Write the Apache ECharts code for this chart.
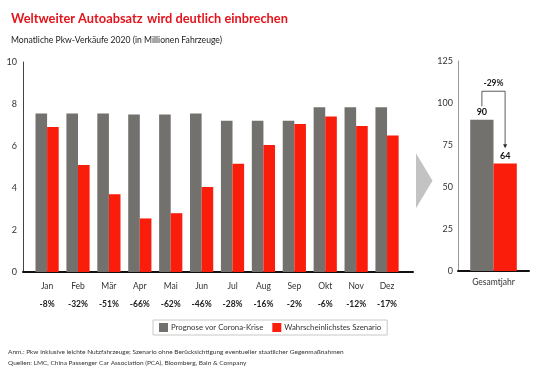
<!DOCTYPE html>
<html><head><meta charset="utf-8">
<script src="https://cdn.jsdelivr.net/npm/echarts@6/dist/echarts.min.js"></script>
<style>html,body{margin:0;padding:0;background:#fff}#c{width:540px;height:372px}</style>
</head><body><div id="c"></div>
<script>
const months = ['Jan','Feb','Mär','Apr','Mai','Jun','Jul','Aug','Sep','Okt','Nov','Dez'];
const prognose = [7.55,7.55,7.55,7.5,7.5,7.55,7.2,7.2,7.2,7.85,7.85,7.85];
const szenario = [6.9,5.1,3.7,2.55,2.8,4.05,5.15,6.05,7.05,7.4,6.95,6.5];
const changeLabels = ['-8%','-32%','-51%','-66%','-62%','-46%','-28%','-16%','-2%','-6%','-12%','-17%'];
const yearCat = ['Gesamtjahr'];
const yearPrognose = [90];
const yearSzenario = [64];
const yearChange = '-29%';
const leftTicks = [0,2,4,6,8,10];
const rightTicks = [0,25,50,75,100,125];

const GRAY = '#72716e', RED = '#fb1d0b', TITLE_RED = '#e4141b';
const FONT = 'Lato, "Noto Sans", sans-serif';

const chart = echarts.init(document.getElementById('c'), null, {renderer:'canvas'});
const monthIdx = months.map((m,i)=>i);

chart.setOption({
  animation:false,
  textStyle:{fontFamily:FONT},
  title:[{
    left:6, top:5,
    text:'{b|Weltweiter Autoabsatz} {n|wird deutlich einbrechen}',
    textStyle:{rich:{
      b:{fontFamily:FONT,fontWeight:'bold',fontSize:12.8,color:TITLE_RED},
      n:{fontFamily:FONT,fontSize:12.8,color:TITLE_RED}
    }}
  },{
    left:6, top:31,
    text:'Monatliche Pkw-Verkäufe 2020 (in Millionen Fahrzeuge)',
    textStyle:{fontFamily:FONT,fontWeight:'normal',fontSize:8.6,color:'#222'}
  }],
  legend:{
    left:153, top:320,
    data:['Prognose vor Corona-Krise','Wahrscheinlichstes Szenario'],
    icon:'rect', itemWidth:9, itemHeight:9, itemGap:9,
    borderColor:'#c8c8c8', borderWidth:1, padding:[3,6,3,6],
    textStyle:{fontFamily:FONT,fontSize:7.8,color:'#333',padding:[0,0,0,-2]}
  },
  grid:[
    {left:23, top:62, width:390, height:210},
    {left:458, top:61, width:71, height:210}
  ],
  xAxis:[{
    type:'value', gridIndex:0, min:-0.78, max:11.84,
    splitLine:{show:false},
    axisLine:{show:true,onZero:false,lineStyle:{color:'#111',width:2}},
    axisTick:{show:false},
    axisLabel:{
      customValues:monthIdx,
      margin:5,
      formatter:(v)=>{const i=Math.round(v); return '{m|'+months[i]+'}\n{p|'+changeLabels[i]+'}';},
      rich:{
        m:{fontFamily:FONT,fontSize:8.5,color:'#333',lineHeight:18},
        p:{fontFamily:FONT,fontSize:8.5,fontWeight:'bold',color:'#222',lineHeight:18}
      }
    }
  },{
    type:'category', gridIndex:1, data:yearCat,
    axisLine:{show:true,lineStyle:{color:'#111',width:2}},
    axisTick:{show:false},
    axisLabel:{fontFamily:FONT,fontSize:8.5,color:'#333',margin:7}
  }],
  yAxis:[{
    type:'value', gridIndex:0, min:0, max:10, interval:2,
    splitLine:{show:false},
    axisLine:{show:true,onZero:false,lineStyle:{color:'#444',width:1}},
    axisTick:{show:false},
    axisLabel:{fontFamily:FONT,fontSize:9,color:'#333',margin:6,
      formatter:(v)=>leftTicks.includes(v)?String(v):''}
  },{
    type:'value', gridIndex:1, min:0, max:125, interval:25,
    splitLine:{show:false},
    axisLine:{show:true,onZero:false,lineStyle:{color:'#999',width:1}},
    axisTick:{show:false},
    axisLabel:{fontFamily:FONT,fontSize:9,color:'#333',margin:5,
      formatter:(v)=>rightTicks.includes(v)?String(v):''}
  }],
  series:[{
    name:'Prognose vor Corona-Krise', type:'bar', xAxisIndex:0, yAxisIndex:0,
    data:prognose.map((v,i)=>[i,v]), barWidth:11.6, barGap:'0%',
    itemStyle:{color:GRAY}
  },{
    name:'Wahrscheinlichstes Szenario', type:'bar', xAxisIndex:0, yAxisIndex:0,
    data:szenario.map((v,i)=>[i,v]), barWidth:11.6, barGap:'0%',
    itemStyle:{color:RED}
  },{
    name:'Prognose vor Corona-Krise', type:'bar', xAxisIndex:1, yAxisIndex:1,
    data:yearPrognose, barWidth:23.3, barGap:'0%',
    itemStyle:{color:GRAY},
    label:{show:true,position:'top',distance:3,fontFamily:FONT,fontWeight:'bold',fontSize:9,color:'#111'}
  },{
    name:'Wahrscheinlichstes Szenario', type:'bar', xAxisIndex:1, yAxisIndex:1,
    data:yearSzenario, barWidth:23.3, barGap:'0%',
    itemStyle:{color:RED},
    label:{show:true,position:'top',distance:3,fontFamily:FONT,fontWeight:'bold',fontSize:9,color:'#111'}
  }]
});

// annotations computed from the chart's scales
const bracketTop = 107, leftStart = 98, rightEnd = 73;
const xc = chart.convertToPixel({xAxisIndex:1}, 0);
const xL = xc - 11.6, xR = xc + 11.6;
const yTop = chart.convertToPixel({yAxisIndex:1}, bracketTop);
const yLs = chart.convertToPixel({yAxisIndex:1}, leftStart);
const yRe = chart.convertToPixel({yAxisIndex:1}, rightEnd);
// chevron between the two panels
const g0 = chart.convertToPixel({gridIndex:0}, [11.84, 0]);
const yc = chart.convertToPixel({yAxisIndex:0}, 4.35);
const cx0 = g0[0] + 3;
const lineSt = {stroke:'#333', lineWidth:0.8};
chart.setOption({
  graphic:[
    {type:'polygon', shape:{points:[[cx0,yc-27.5],[cx0+16.5,yc],[cx0,yc+27.5]]}, style:{fill:'#c3c3c3'}},
    {type:'polyline', shape:{points:[[xL,yLs],[xL,yTop],[xR,yTop],[xR,yRe-4]]}, style:Object.assign({fill:null},lineSt)},
    {type:'polygon', shape:{points:[[xR-2,yRe-4],[xR+2,yRe-4],[xR,yRe]]}, style:{fill:'#222'}},
    {type:'text', x:(xL+xR)/2, y:yTop-8, style:{text:yearChange, fontFamily:FONT, fontSize:8.5, fontWeight:'bold', fill:'#222', align:'center', verticalAlign:'middle'}},
    {type:'text', left:8, top:348, style:{text:'Anm.: Pkw inklusive leichte Nutzfahrzeuge; Szenario ohne Berücksichtigung eventueller staatlicher Gegenmaßnahmen', fontFamily:FONT, fontSize:6.5, fill:'#333'}},
    {type:'text', left:8, top:359, style:{text:'Quellen: LMC, China Passenger Car Association (PCA), Bloomberg, Bain & Company', fontFamily:FONT, fontSize:6.5, fill:'#333'}}
  ]
});
</script>
</body></html>
